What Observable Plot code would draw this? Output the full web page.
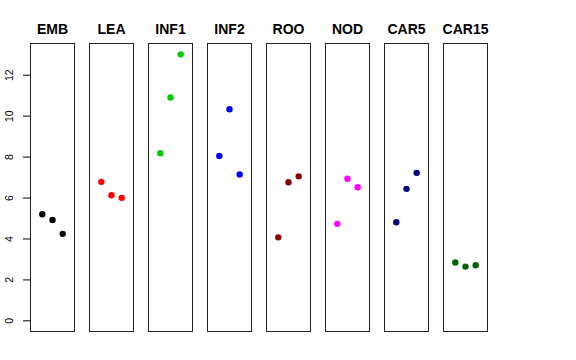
<!DOCTYPE html>
<html>
<head>
<meta charset="utf-8">
<script src="https://cdn.jsdelivr.net/npm/d3@7"></script>
<script src="https://cdn.jsdelivr.net/npm/@observablehq/plot@0.6"></script>
<style>
  html, body { margin: 0; padding: 0; background: white; }
</style>
</head>
<body>
<div id="chart"></div>
<script>
const tissues = ["EMB", "LEA", "INF1", "INF2", "ROO", "NOD", "CAR5", "CAR15"];
const rep1 = [5.21, 6.79, 8.19, 8.06, 4.08, 4.74, 4.82, 2.85];
const rep2 = [4.93, 6.14, 10.91, 10.34, 6.77, 6.94, 6.45, 2.65];
const rep3 = [4.25, 6.01, 13.02, 7.15, 7.06, 6.53, 7.23, 2.72];
const colors = ["black", "red", "#00CD00", "blue", "#8B0000", "magenta", "#000080", "#006400"];
const yTicks = [0, 2, 4, 6, 8, 10, 12];

const data = [];
tissues.forEach((t, i) => {
  [rep1[i], rep2[i], rep3[i]].forEach((v, j) => {
    data.push({tissue: t, rep: j + 1, value: v, color: colors[i]});
  });
});

const chart = Plot.plot({
  width: 576,
  height: 360,
  marginLeft: 29,
  marginRight: 88,
  marginTop: 43,
  marginBottom: 29,
  style: {fontFamily: "'Liberation Sans', Arial, Helvetica, sans-serif", background: "white", color: "black"},
  fx: {domain: tissues, paddingInner: 0.247, paddingOuter: 0, axis: null},
  x: {domain: [-0.16, 4.16], axis: null},
  y: {domain: [-0.52, 13.55], axis: null},
  color: {type: "identity"},
  marks: [
    Plot.frame({stroke: "#222", strokeWidth: 1}),
    Plot.dot(data, {fx: "tissue", x: "rep", y: "value", fill: "color", r: 3.2, stroke: null}),
    Plot.axisFx({anchor: "top", tickSize: 0, tickPadding: 10, fontSize: 14, fontWeight: "bold", label: null}),
    Plot.axisY({ticks: yTicks, tickSize: 7, tickRotate: -90, fontSize: 10.5, tickPadding: 11, label: null})
  ]
});
document.getElementById("chart").appendChild(chart);
</script>
</body>
</html>
